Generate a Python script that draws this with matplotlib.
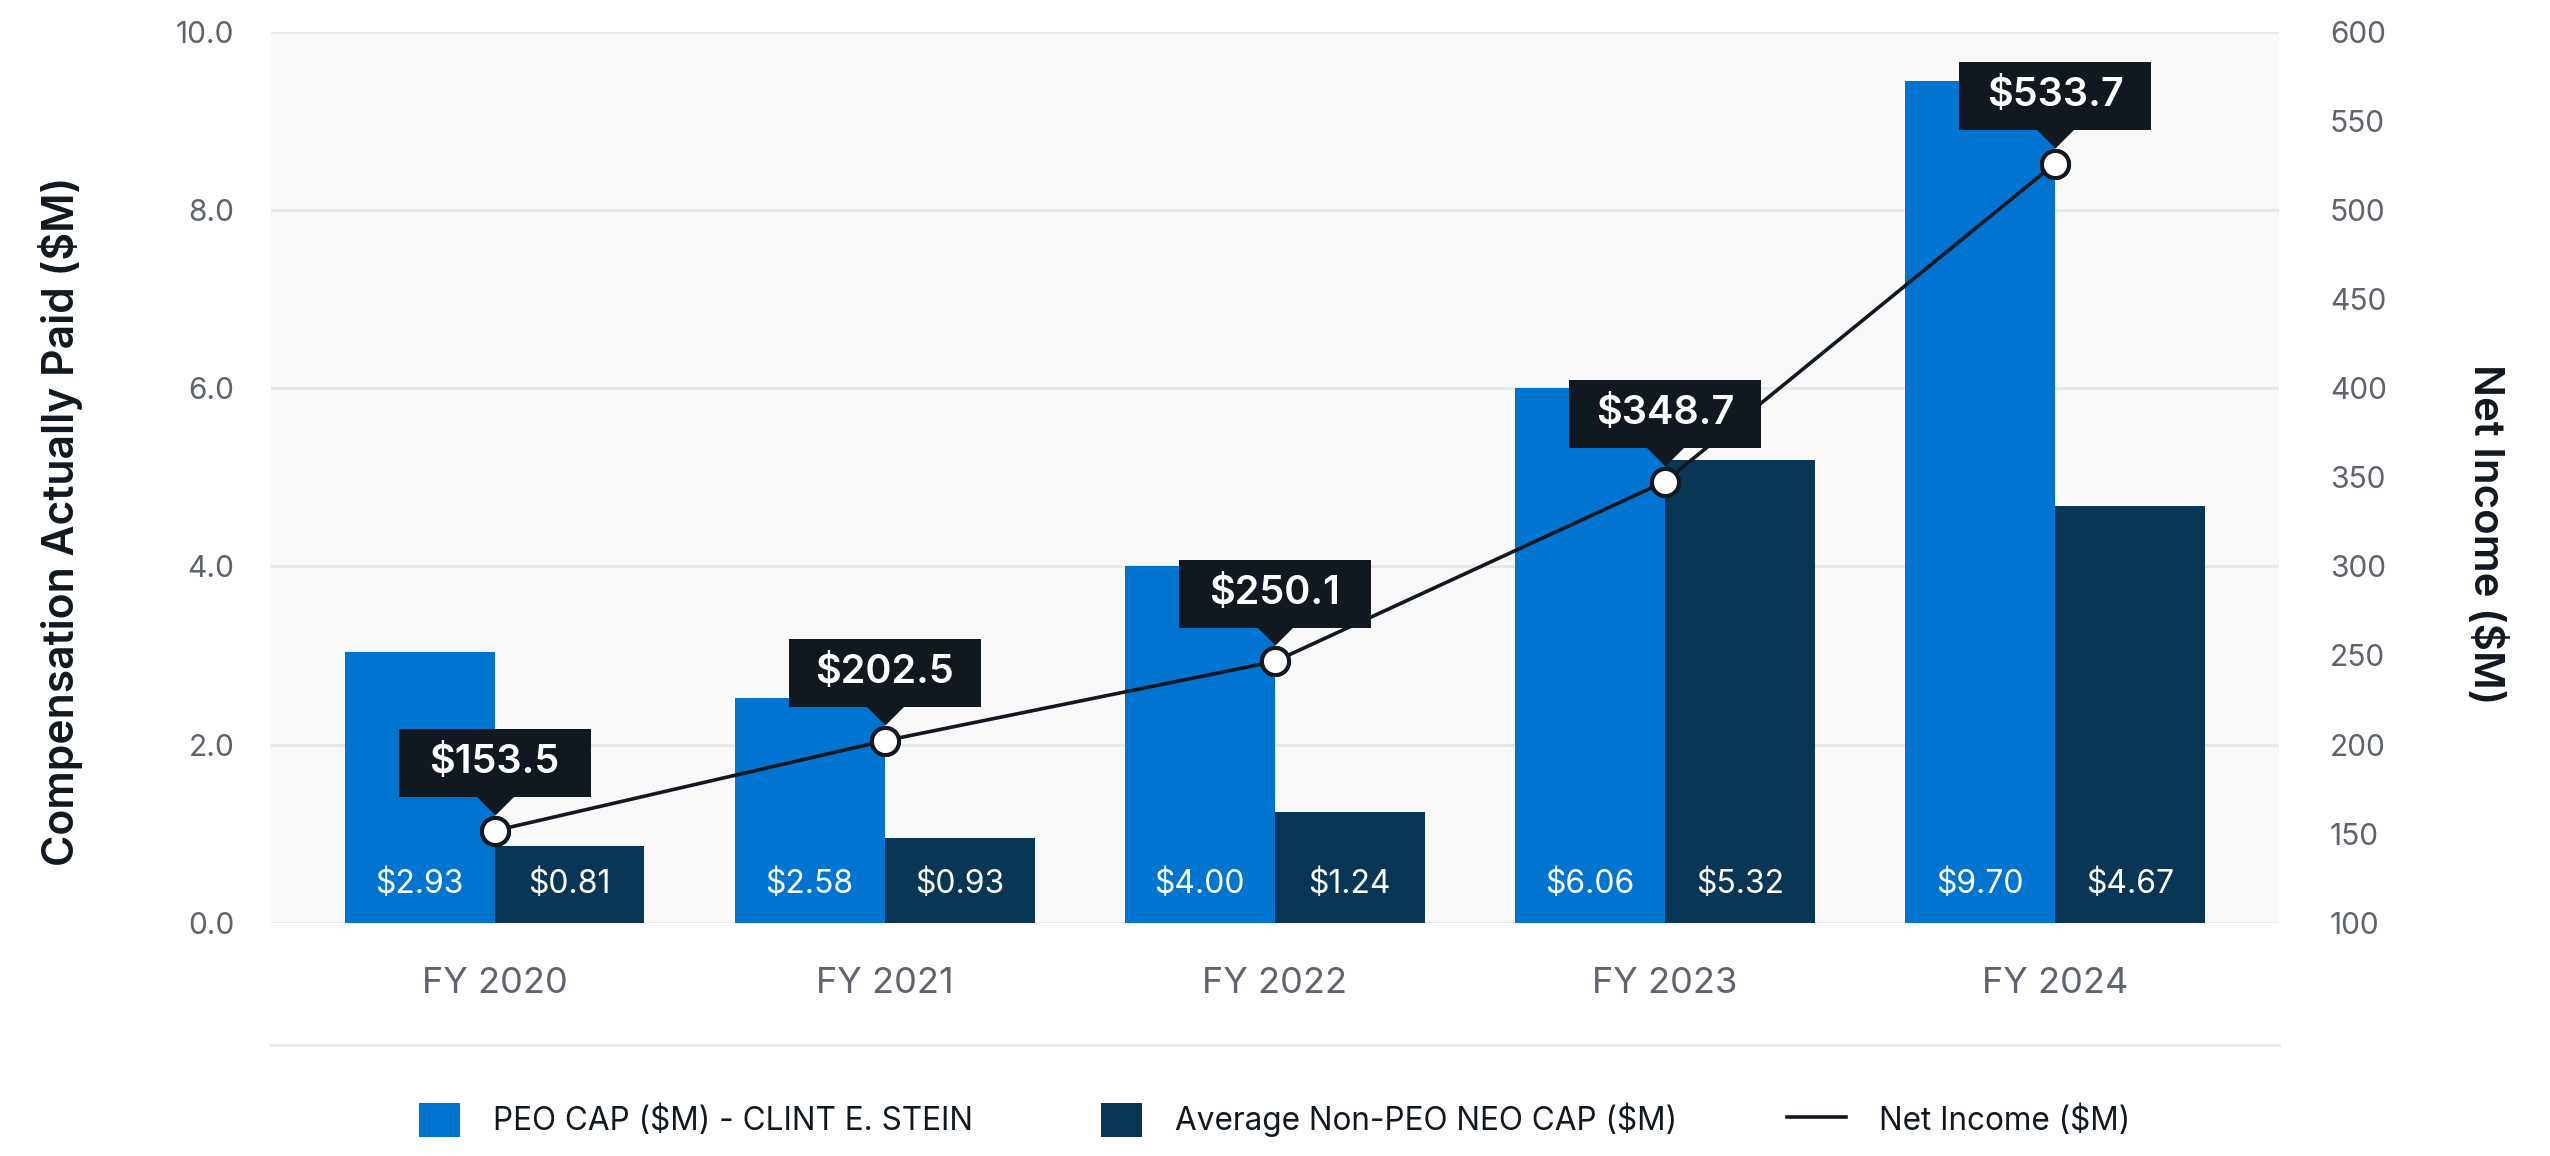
import numpy as np
import matplotlib
matplotlib.use("Agg")
import matplotlib.pyplot as plt
from matplotlib.lines import Line2D
from matplotlib.patches import Patch
from matplotlib.path import Path
from matplotlib.transforms import ScaledTranslation
from matplotlib.ticker import FormatStrFormatter, MultipleLocator
from matplotlib.legend_handler import HandlerLine2D

plt.rcParams['font.family'] = ['Inter', 'DejaVu Sans']

# ---------------- data ----------------
years = ["FY 2020", "FY 2021", "FY 2022", "FY 2023", "FY 2024"]
peo_cap = [3.04, 2.52, 4.00, 6.00, 9.45]            # bar heights as drawn
peo_cap_labels = ["$2.93", "$2.58", "$4.00", "$6.06", "$9.70"]
neo_cap = [0.86, 0.95, 1.24, 5.19, 4.68]            # bar heights as drawn
neo_cap_labels = ["$0.81", "$0.93", "$1.24", "$5.32", "$4.67"]
net_income = [151.6, 202.1, 246.6, 347.5, 526.0]    # points as drawn
net_income_labels = ["$153.5", "$202.5", "$250.1", "$348.7", "$533.7"]

legend_labels = ["PEO CAP ($M) - CLINT E. STEIN", "Average Non-PEO NEO CAP ($M)", "Net Income ($M)"]
left_title = "Compensation Actually Paid ($M)"
right_title = "Net Income ($M)"

# ---------------- style ----------------
BLUE = "#0074d1"
NAVY = "#083654"
DARK = "#111820"
GRID = "#e7e7e9"
BG = "#f9f9f9"
TICK = "#5f636e"

W, H, DPI = 2550, 1156, 100
fig = plt.figure(figsize=(W / DPI, H / DPI), dpi=DPI)
ax_l, ax_r, ax_t, ax_b = 271, 2278.5, 31.7, 922.7
ax = fig.add_axes([ax_l / W, 1 - ax_b / H, (ax_r - ax_l) / W, (ax_b - ax_t) / H])
ax.set_facecolor(BG)
for s in ax.spines.values():
    s.set_visible(False)

x = np.arange(len(years))
bw = 0.3844
ax.bar(x - bw / 2, peo_cap, width=bw, color=BLUE, zorder=2)
ax.bar(x + bw / 2, neo_cap, width=bw, color=NAVY, zorder=2)

for xi, lbl in zip(x - bw / 2, peo_cap_labels):
    ax.annotate(lbl, xy=(xi, 0), xytext=(0, 21.4), textcoords='offset points',
                ha='center', va='baseline', color='white', fontsize=23, zorder=3)
for xi, lbl in zip(x + bw / 2, neo_cap_labels):
    ax.annotate(lbl, xy=(xi, 0), xytext=(0, 21.4), textcoords='offset points',
                ha='center', va='baseline', color='white', fontsize=23, zorder=3)

ax.set_xlim(-0.573, len(years) - 1 + 0.573)
ax.set_ylim(0, 10)
ax.yaxis.set_major_locator(MultipleLocator(2))
ax.yaxis.set_major_formatter(FormatStrFormatter('%.1f'))
ax.set_xticks(x)
ax.set_xticklabels(years)
ax.set_axisbelow(True)
ax.yaxis.grid(True, color=GRID, lw=1.95, zorder=0)
ax.tick_params(axis='y', length=0, pad=26.6, labelsize=21.5, labelcolor=TICK)
ax.tick_params(axis='x', length=0, pad=32, labelsize=26, labelcolor=TICK)

# right axis
ax2 = ax.twinx()
for s in ax2.spines.values():
    s.set_visible(False)
ax2.set_ylim(100, 600)
ax2.yaxis.set_major_locator(MultipleLocator(50))
ax2.tick_params(axis='y', length=0, pad=37, labelsize=21.5, labelcolor=TICK)

ax2.plot(x, net_income, color=DARK, lw=2.6, marker='o', markersize=19.5,
         markerfacecolor='white', markeredgecolor=DARK, markeredgewidth=2.9, zorder=3)

# callout boxes
px = 1.0 / DPI
box_w, box_h = 192.5, 68.7
hh = box_h / box_w
rect = Path([(-1, -hh), (1, -hh), (1, hh), (-1, hh), (-1, -hh)],
            [Path.MOVETO, Path.LINETO, Path.LINETO, Path.LINETO, Path.CLOSEPOLY])
tri = Path([(-1, 0), (1, 0), (0, -1), (-1, 0)],
           [Path.MOVETO, Path.LINETO, Path.LINETO, Path.CLOSEPOLY])
box_off = 33.5 + box_h / 2
box_tr = ax2.transData + ScaledTranslation(0, box_off * px, fig.dpi_scale_trans)
tri_tr = ax2.transData + ScaledTranslation(0, 35.0 * px, fig.dpi_scale_trans)
ax2.plot(x, net_income, linestyle='none', marker=rect, markersize=box_w * 0.72,
         markerfacecolor=DARK, markeredgewidth=0, transform=box_tr, zorder=4, clip_on=False)
ax2.plot(x, net_income, linestyle='none', marker=tri, markersize=38 * 0.72,
         markerfacecolor=DARK, markeredgewidth=0, transform=tri_tr, zorder=4, clip_on=False)
# redraw markers on top of triangles
ax2.plot(x, net_income, linestyle='none', marker='o', markersize=19.5,
         markerfacecolor='white', markeredgecolor=DARK, markeredgewidth=2.9, zorder=5)
for xi, yi, lbl in zip(x, net_income, net_income_labels):
    ax2.annotate(lbl, xy=(xi, yi), xytext=(0, box_off * 0.72), textcoords='offset points',
                 ha='center', va='center', color='white', fontsize=28.5,
                 fontweight='semibold', zorder=6)

# axis titles
ax.text(-0.105, 0.451, left_title, transform=ax.transAxes, rotation=90,
        ha='center', va='center', fontsize=30.7, fontweight='semibold', color=DARK)
ax.text(1.1036, 0.436, right_title, transform=ax.transAxes, rotation=270,
        ha='center', va='center', fontsize=30.2, fontweight='semibold', color=DARK)

# separator line under x labels
sep_y = (ax_b - 1045.3) / (ax_b - ax_t)
ax.add_artist(Line2D([0, 1], [sep_y, sep_y], transform=ax.transAxes, color="#e5e7ea",
                     lw=1.95, clip_on=False))


# legend
class LongLineHandler(HandlerLine2D):
    """Line handle drawn a bit longer than the square patch handles."""
    def create_artists(self, legend, orig_handle, xdescent, ydescent, width, height,
                       fontsize, trans):
        extra = 0.45 * width
        arts = super().create_artists(legend, orig_handle, xdescent + extra, ydescent,
                                      width + extra, height, fontsize, trans)
        return arts


handles = [Patch(facecolor=BLUE, edgecolor='none'),
           Patch(facecolor=NAVY, edgecolor='none'),
           Line2D([], [], color=DARK, lw=2.6)]
fs = 22.7
fpx = fs / 0.72
leg = fig.legend(handles, legend_labels, loc='center', ncol=3, frameon=False,
                 bbox_to_anchor=((ax_l + ax_r) / 2 / W, 1 - 1120 / H),
                 fontsize=fs, handlelength=41 / fpx, handleheight=41 / fpx,
                 handletextpad=33 / fpx, columnspacing=128 / fpx, borderpad=0,
                 handler_map={Line2D: LongLineHandler()})
for t in leg.get_texts():
    t.set_color(DARK)

fig.savefig("out.png", dpi=DPI)
